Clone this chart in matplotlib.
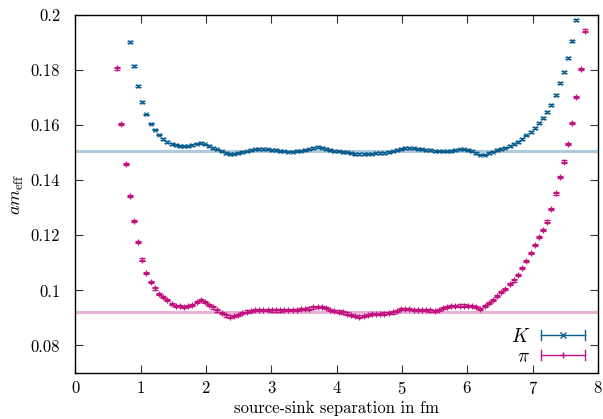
import numpy as np
import matplotlib
matplotlib.use("Agg")
import matplotlib.pyplot as plt
from matplotlib.legend_handler import HandlerBase
from matplotlib.lines import Line2D

plt.rcParams['font.family'] = ['cmr10']
plt.rcParams['mathtext.fontset'] = 'cm'
plt.rcParams['axes.unicode_minus'] = False
plt.rcParams['axes.formatter.use_mathtext'] = True

# lattice spacing (fm) and time slices
a_fm = 0.06392
t_pi = np.arange(10, 123)
t_k = np.arange(13, 121)

# effective masses
m_pi = [0.1806, 0.1605, 0.1460, 0.1344, 0.1252, 0.1175, 0.1112, 0.1063, 0.1031, 0.1007,
        0.0988, 0.0976, 0.0964, 0.0952, 0.0944, 0.0942, 0.0940, 0.0944, 0.0947, 0.0959,
        0.0964, 0.0957, 0.0948, 0.0938, 0.0927, 0.0918, 0.0909, 0.0905, 0.0907, 0.0912,
        0.0917, 0.0923, 0.0926, 0.0928, 0.0929, 0.0929, 0.0928, 0.0927, 0.0927, 0.0927,
        0.0928, 0.0929, 0.0930, 0.0930, 0.0931, 0.0932, 0.0934, 0.0938, 0.0941, 0.0940,
        0.0935, 0.0929, 0.0925, 0.0923, 0.0920, 0.0916, 0.0911, 0.0907, 0.0905, 0.0907,
        0.0910, 0.0913, 0.0914, 0.0915, 0.0916, 0.0918, 0.0920, 0.0925, 0.0931, 0.0933,
        0.0932, 0.0930, 0.0929, 0.0929, 0.0928, 0.0927, 0.0926, 0.0929, 0.0935, 0.0939,
        0.0942, 0.0944, 0.0945, 0.0945, 0.0944, 0.0943, 0.0940, 0.0933, 0.0942, 0.0953,
        0.0966, 0.0980, 0.0993, 0.1005, 0.1022, 0.1036, 0.1057, 0.1080, 0.1107, 0.1135,
        0.1165, 0.1195, 0.1220, 0.1250, 0.1295, 0.1352, 0.1412, 0.1468, 0.1533, 0.1609,
        0.1702, 0.1805, 0.1944]
m_k = [0.1902, 0.1816, 0.1743, 0.1685, 0.1639, 0.1606, 0.1584, 0.1566, 0.1550, 0.1539,
       0.1532, 0.1527, 0.1524, 0.1523, 0.1524, 0.1528, 0.1533, 0.1536, 0.1530, 0.1524,
       0.1518, 0.1512, 0.1505, 0.1500, 0.1496, 0.1497, 0.1500, 0.1503, 0.1505, 0.1509,
       0.1512, 0.1513, 0.1513, 0.1512, 0.1511, 0.1509, 0.1507, 0.1505, 0.1504, 0.1504,
       0.1506, 0.1508, 0.1510, 0.1512, 0.1517, 0.1521, 0.1519, 0.1514, 0.1509, 0.1507,
       0.1505, 0.1503, 0.1501, 0.1499, 0.1496, 0.1495, 0.1496, 0.1497, 0.1497, 0.1498,
       0.1499, 0.1500, 0.1502, 0.1505, 0.1510, 0.1514, 0.1517, 0.1518, 0.1516, 0.1514,
       0.1512, 0.1510, 0.1509, 0.1507, 0.1505, 0.1505, 0.1505, 0.1507, 0.1510, 0.1512,
       0.1512, 0.1510, 0.1506, 0.1500, 0.1493, 0.1493, 0.1500, 0.1504, 0.1509, 0.1514,
       0.1519, 0.1525, 0.1531, 0.1540, 0.1551, 0.1563, 0.1576, 0.1591, 0.1609, 0.1627,
       0.1647, 0.1674, 0.1709, 0.1753, 0.1794, 0.1845, 0.1905, 0.1982]
err_pi = 0.0004
err_k = 0.0003

# fitted plateaus
fit_k = 0.1508
fit_pi = 0.0923

col_k = '#0b5d8e'
col_pi = '#c0137f'

yticks = [0.08, 0.1, 0.12, 0.14, 0.16, 0.18, 0.2]
ytick_labels = ['0.08', '0.1', '0.12', '0.14', '0.16', '0.18', '0.2']


class GnuplotKey(HandlerBase):
    # horizontal errorbar sample like gnuplot's key
    def create_artists(self, legend, orig_handle, xdescent, ydescent,
                       width, height, fontsize, trans):
        c = orig_handle.get_color()
        y = height / 2 - ydescent
        x0, x1 = -xdescent, width - xdescent
        h = height * 0.35
        line = Line2D([x0, x1], [y, y], color=c, lw=1.0, transform=trans)
        cap0 = Line2D([x0, x0], [y - h, y + h], color=c, lw=1.0, transform=trans)
        cap1 = Line2D([x1, x1], [y - h, y + h], color=c, lw=1.0, transform=trans)
        mk = Line2D([(x0 + x1) / 2], [y], color=c, marker=orig_handle.get_marker(),
                    ms=4, mew=1.0, ls='none', transform=trans)
        return [line, cap0, cap1, mk]


fig = plt.figure(figsize=(6.03, 4.19), dpi=100)
ax = fig.add_axes([0.1252, 0.1098, 0.8665, 0.8542])

ax.axhline(fit_k, color='#afcadb', lw=2.2, zorder=1)
ax.axhline(fit_pi, color='#e8b2d8', lw=2.2, zorder=1)

ax.errorbar(t_k * a_fm, m_k, yerr=err_k, fmt='x', color=col_k, ms=3, mew=0.9,
            elinewidth=0.9, capsize=2.2, capthick=0.9, zorder=3)
ax.errorbar(t_pi * a_fm, m_pi, yerr=err_pi, fmt='+', color=col_pi, ms=4, mew=0.9,
            elinewidth=0.9, capsize=2.2, capthick=0.9, zorder=3)

ax.set_xlim(0, 8)
ax.set_ylim(0.07, 0.2)
ax.set_xticks(range(0, 9))
ax.set_yticks(yticks)
ax.set_yticklabels(ytick_labels)
ax.tick_params(direction='in', top=True, right=True, length=6, width=0.8,
               labelsize=12, colors='#333333', labelcolor='black')
ax.tick_params(axis='x', pad=5)
ax.tick_params(axis='y', pad=11)
for s in ax.spines.values():
    s.set_linewidth(1.0)

ax.set_xlabel('source-sink separation in fm', fontsize=12, labelpad=3)
ax.set_ylabel(r'$am_{\mathrm{eff}}$', fontsize=13, labelpad=3)

handles = [Line2D([], [], color=col_k, marker='x'), Line2D([], [], color=col_pi, marker='+')]
ax.legend(handles, [r'$K$', r'$\pi$'], handler_map={Line2D: GnuplotKey()},
          loc='lower right', bbox_to_anchor=(1.002, -0.018), frameon=False,
          markerfirst=False, handlelength=2.3, handletextpad=0.55,
          labelspacing=0.1, fontsize=14, borderpad=0.2)

fig.savefig('out.png', dpi=100)
